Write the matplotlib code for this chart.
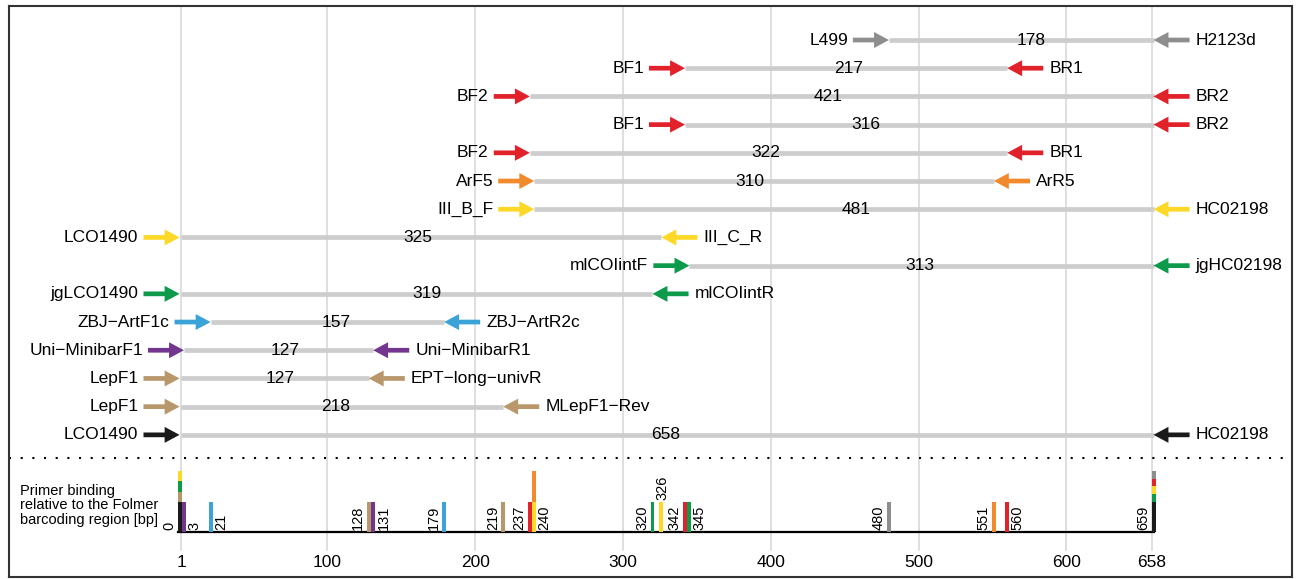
import numpy as np
import matplotlib
matplotlib.use("Agg")
import matplotlib.pyplot as plt

plt.rcParams['font.family'] = ['Liberation Sans', 'DejaVu Sans']

M = '\u2212'  # R draws hyphens as minus signs

# primer pairs, top to bottom
fwd_names = ['L499', 'BF1', 'BF2', 'BF1', 'BF2', 'ArF5', 'III_B_F', 'LCO1490',
             'mlCOIintF', 'jgLCO1490', 'ZBJ' + M + 'ArtF1c', 'Uni' + M + 'MinibarF1',
             'LepF1', 'LepF1', 'LCO1490']
rev_names = ['H2123d', 'BR1', 'BR2', 'BR2', 'BR1', 'ArR5', 'HC02198', 'III_C_R',
             'jgHC02198', 'mlCOIintR', 'ZBJ' + M + 'ArtR2c', 'Uni' + M + 'MinibarR1',
             'EPT' + M + 'long' + M + 'univR', 'MLepF1' + M + 'Rev', 'HC02198']
fwd_pos = [480, 342, 237, 342, 237, 240, 240, 0, 345, 0, 21, 3, 0, 0, 0]
rev_pos = [659, 560, 659, 659, 560, 551, 659, 326, 659, 320, 179, 131, 128, 219, 659]
amp_len = [178, 217, 421, 316, 322, 310, 481, 325, 313, 319, 157, 127, 127, 218, 658]
len_x = [576, 453, 439, 464.5, 397, 386, 458, 161, 500.8, 167.7, 105.9, 71.7, 68, 105.9, 329]
row_col = ['gray', 'red', 'red', 'red', 'red', 'orange', 'yellow', 'yellow',
           'green', 'green', 'blue', 'purple', 'tan', 'tan', 'black']

# binding positions (bottom strip)
bind_pos = [0, 3, 21, 128, 131, 179, 219, 237, 240, 320, 326, 342, 345, 480, 551, 560, 659]
bind_cols = [['black', 'tan', 'green', 'yellow'], ['purple'], ['blue'], ['tan'], ['purple'],
             ['blue'], ['tan'], ['red'], ['yellow', 'orange'], ['green'], ['yellow'], ['red'],
             ['green'], ['gray'], ['orange'], ['red'], ['black', 'green', 'yellow', 'red', 'gray']]
bind_side = ['L', 'R', 'R', 'L', 'R', 'L', 'L', 'L', 'R', 'L', 'T', 'L', 'R', 'L', 'L', 'R', 'L']

grid_x = [1, 100, 200, 300, 400, 500, 600, 658]

pal = {'black': '#1a1a1a', 'purple': '#72368f', 'blue': '#3ba3d8', 'tan': '#b8976b',
       'red': '#e2222b', 'yellow': '#fdd827', 'orange': '#f08a2c', 'green': '#0d9a4a',
       'gray': '#8e8e8e'}

fig = plt.figure(figsize=(12.99, 5.79), dpi=100)
ax = fig.add_axes([9 / 1299, 2 / 579, 1283 / 1299, 571 / 579])
ax.set_xlim(-115.4, 752.7)
ax.set_ylim(19.04, -1.206)
ax.set_xticks([])
ax.set_yticks([])
for s in ax.spines.values():
    s.set_color('#333333')
    s.set_linewidth(1.5)

# vertical grid
for g in grid_x:
    ax.plot([g, g], [-1.3, 18.09], color='#d6d6d6', lw=1.1, zorder=0)

alen, hlen = 24.4, 10.1     # arrow length / head length in bp
fs = 12.5
for i in range(len(fwd_names)):
    c = pal[row_col[i]]
    f, r = fwd_pos[i], rev_pos[i]
    ax.plot([max(f, 1), r], [i, i], color='#cdcdcd', lw=3.4, solid_capstyle='butt', zorder=1)
    ax.arrow(f - alen, i, alen, 0, width=0.167, head_width=0.567, head_length=hlen,
             length_includes_head=True, color=c, lw=0, zorder=3)
    ax.arrow(r + alen, i, -alen, 0, width=0.167, head_width=0.567, head_length=hlen,
             length_includes_head=True, color=c, lw=0, zorder=3)
    ax.text(f - alen - 3.4, i, fwd_names[i], ha='right', va='center', fontsize=fs, zorder=4)
    ax.text(r + alen + 4, i, rev_names[i], ha='left', va='center', fontsize=fs, zorder=4)
    ax.text(len_x[i], i, str(amp_len[i]), ha='center', va='center', fontsize=fs, zorder=4)

# dotted separator
ax.plot([-115.4, 752.7], [14.82, 14.82], color='black', lw=1.5,
        linestyle=(0, (1, 4.6)), dash_capstyle='butt', zorder=2)

# binding strip
base, top1, top2 = 17.447, 16.38, 15.28
bw = 2.7
ax.plot([-1, 659.5], [base, base], color='black', lw=1.6, zorder=3)
for p, cols, side in zip(bind_pos, bind_cols, bind_side):
    ax.bar(p, top1 - base, bottom=base, width=bw, color=pal[cols[0]], lw=0, zorder=4)
    extra = cols[1:]
    if extra:
        h = (top2 - top1) / len(extra)
        for k, cc in enumerate(extra):
            ax.bar(p, h, bottom=top1 + k * h, width=bw, color=pal[cc], lw=0, zorder=4)
    if side == 'L':
        ax.text(p - bw / 2 - 1, 17.38, str(p), rotation=90, ha='right', va='bottom',
                fontsize=10.5, zorder=5)
    elif side == 'R':
        ax.text(p + bw / 2 + 1, 17.38, str(p), rotation=90, ha='left', va='bottom',
                fontsize=10.5, zorder=5)
    else:
        ax.text(p + 0.8, 16.31, str(p), rotation=90, ha='center', va='bottom',
                fontsize=10.5, zorder=5)

for g in grid_x:
    ax.text(g, 18.51, str(g), ha='center', va='center', fontsize=fs)

ax.text(-108, 16.49, 'Primer binding\nrelative to the Folmer\nbarcoding region [bp]',
        ha='left', va='center', fontsize=10.5, linespacing=1.05)

fig.savefig('out.png', dpi=100)
